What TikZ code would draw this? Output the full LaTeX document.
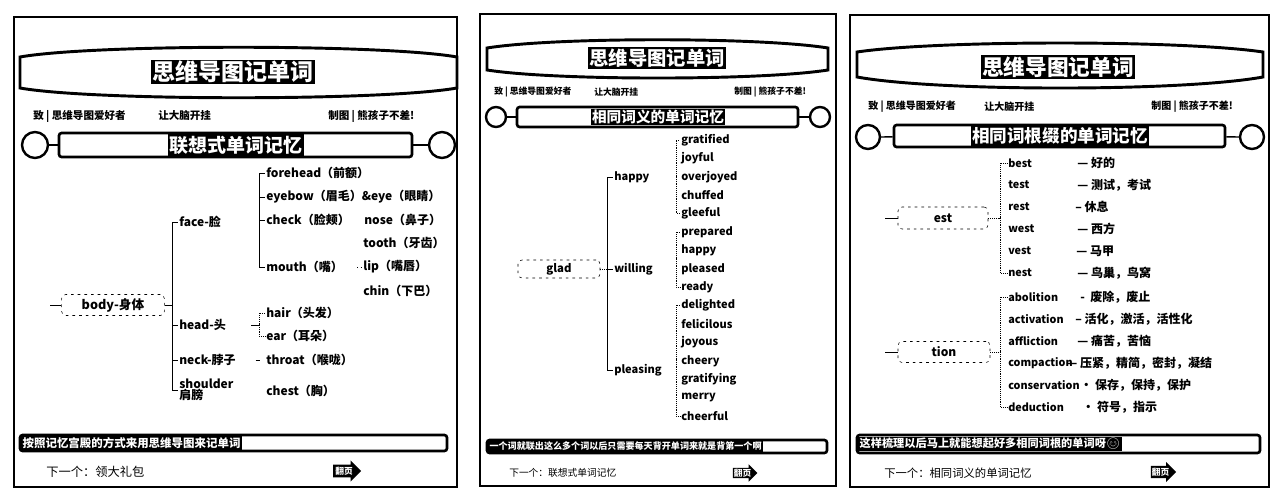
\documentclass[tikz,border=0pt]{standalone}
\usepackage{fontspec}
\setmainfont{Noto Sans CJK SC}
\newfontfamily\emojifont{Noto Emoji}
\usetikzlibrary{calc,shapes.arrows}

\begin{document}
\begin{tikzpicture}[x=0.75pt,y=0.75pt,yscale=-1,xscale=1,
  word/.style={anchor=west,inner sep=0.75pt,font=\bfseries\fontsize{9}{10}\selectfont},
  wordb/.style={anchor=west,inner sep=0.75pt,font=\bfseries\fontsize{8.3}{9}\selectfont},
  wordc/.style={anchor=west,inner sep=0.75pt,font=\bfseries\fontsize{8.1}{9}\selectfont},
  meaning/.style={anchor=west,inner sep=0.75pt,font=\bfseries\fontsize{9}{10}\selectfont},
  inverse/.style={fill=black,text=white,inner sep=1pt},
  rootbox/.style={draw,dash pattern=on 2pt off 3pt,rounded corners=3pt,inner sep=0pt},
  ring/.style={circle,draw,line width=1.8pt,inner sep=0pt},
  bar/.style={draw,line width=2pt,rounded corners=2pt,inner sep=0pt},
  nextarrow/.style={single arrow,fill=black,text=white,inner sep=0.5pt,single arrow head extend=2.5pt,font=\bfseries\fontsize{6.5}{7}\selectfont}]
\useasboundingbox (0,0) rectangle (1280,500);

%%%%%%%%%%%%%%%%%%%% panel 1 %%%%%%%%%%%%%%%%%%%%
%Shape: Rectangle [id:frame1]
\draw [line width=2pt] (14,17) rectangle (457,487);
%Shape: Banner [id:banner1]
\draw [line width=2.2pt] (20,57) .. controls (93,44) and (384,44) .. (457,57) -- (457,88) .. controls (384,101) and (93,101) .. (20,88) -- cycle;
% Text Node
\node [inverse,font=\bfseries\fontsize{17.25}{18}\selectfont] (title1) at (233,72) {思维导图记单词};
% Text Node
\node [anchor=west,inner sep=0.75pt,font=\bfseries\fontsize{7.9}{9}\selectfont] (to1) at (32,116) {致 | 思维导图爱好者};
\node [anchor=west,inner sep=0.75pt,font=\bfseries\fontsize{7.9}{9}\selectfont] (slogan1) at (157,116) {让大脑开挂};
\node [anchor=west,inner sep=0.75pt,font=\bfseries\fontsize{7.9}{9}\selectfont] (by1) at (327,116) {制图 | 熊孩子不差!};
%Shape: Section banner
\node [bar,minimum width=264.75pt,minimum height=18pt] (sec1) at (235.5,145) {};
\node [ring,minimum size=19.5pt] (sec1l) at (35,145) {};
\node [ring,minimum size=19.5pt] (sec1r) at (442,145) {};
\draw [line width=1pt] (sec1l) -- (sec1);
\draw [line width=1pt] (sec1) -- (sec1r);
\node [inverse,font=\bfseries\fontsize{14.25}{15}\selectfont] (sec1t) at (236,145) {联想式单词记忆};

% Root
\node [rootbox,minimum width=77pt,minimum height=15.75pt,font=\bfseries\fontsize{9.5}{10}\selectfont] (body) at (113,305) {body-身体};
\coordinate (bodyL) at (50,305);
\coordinate (fk1) at (172,305);
\draw (bodyL) -- (body.west);
\draw (body.east) -- (fk1);
% Text Node
\node [word] (face) at (178,222) {face-脸};
\node [word] (head) at (178,325) {head-头};
\node [word] (neck) at (178,360) {neck-脖子};
\node [word,align=left] (shoulder) at (178,390) {shoulder\\[-2pt]肩膀};
\draw (fk1) |- (face.west);
\draw (fk1) |- (head.west);
\draw (fk1) |- (neck.west);
\draw (fk1) |- (shoulder.west);

% face
\node [word] (forehead) at (265,173) {forehead（前额）};
\node [word] (eyebow) at (265,197) {eyebow（眉毛）\&eye（眼睛）};
\node [word] (check) at (265,220) {check（脸颊）};
\node [word] (mouth) at (265,267) {mouth（嘴）};
\node [word] (nose) at (363,220) {nose（鼻子）};
\node [word] (tooth) at (362,243) {tooth（牙齿）};
\node [word] (lip) at (362,267) {lip（嘴唇）};
\node [word] (chin) at (362,291) {chin（下巴）};
\coordinate (fk2) at (259,220);
\draw (fk2) |- (forehead.west);
\draw (fk2) |- (eyebow.west);
\draw (fk2) |- (check.west);
\draw (fk2) |- (mouth.west);
\draw [dotted,shorten <=10pt] (mouth.east) -- (lip.west);

% head
\node [word] (hair) at (265,313) {hair（头发）};
\node [word] (ear) at (265,336) {ear（耳朵）};
\coordinate (fk3) at (259,325);
\draw ($(fk3)+(-8,0)$) -- (fk3);
\draw [densely dotted] (fk3) |- (hair.west);
\draw [densely dotted] (fk3) |- (ear.west);

% neck, shoulder
\node [word] (throat) at (265,360) {throat（喉咙）};
\draw [shorten <=14pt,shorten >=4pt] (neck.east) -- (throat.west);
\node [word] (chest) at (265,391) {chest（胸）};

%Shape: Bottom bar
\node [bar,minimum width=320.25pt,minimum height=12pt] (note1) at (233.5,443) {};
\node [inverse,anchor=west,font=\bfseries\fontsize{8.6}{9}\selectfont] (note1t) at (21,443) {按照记忆宫殿的方式来用思维导图来记单词};
% Text Node
\node [anchor=west,inner sep=0.75pt,font=\fontsize{9.2}{10}\selectfont] (next1) at (45,472) {下一个：领大礼包};
\node [nextarrow,minimum height=21pt,minimum width=16pt] (go1) at (344,471) {翻页};

%%%%%%%%%%%%%%%%%%%% panel 2 %%%%%%%%%%%%%%%%%%%%
%Shape: Rectangle [id:frame2]
\draw [line width=2pt] (480,14) rectangle (836,486);
%Shape: Banner [id:banner2]
\draw [line width=2.2pt] (487,48) .. controls (555,37) and (760,37) .. (828,48) -- (828,70) .. controls (760,80.7) and (555,80.7) .. (487,70) -- cycle;
% Text Node
\node [inverse,font=\bfseries\fontsize{14.5}{15}\selectfont] (title2) at (657,58) {思维导图记单词};
% Text Node
\node [anchor=west,inner sep=0.75pt,font=\bfseries\fontsize{6.6}{7}\selectfont] (to2) at (493,92) {致 | 思维导图爱好者};
\node [anchor=west,inner sep=0.75pt,font=\bfseries\fontsize{6.6}{7}\selectfont] (slogan2) at (593,92) {让大脑开挂};
\node [anchor=west,inner sep=0.75pt,font=\bfseries\fontsize{6.6}{7}\selectfont] (by2) at (733,92) {制图 | 熊孩子不差!};
%Shape: Section banner
\node [bar,minimum width=210.75pt,minimum height=15pt] (sec2) at (657.5,117) {};
\node [ring,minimum size=15pt] (sec2l) at (496,117) {};
\node [ring,minimum size=15pt] (sec2r) at (820,117) {};
\draw [line width=1pt] (sec2l) -- (sec2);
\draw [line width=1pt] (sec2) -- (sec2r);
\node [inverse,font=\bfseries\fontsize{11}{12}\selectfont] (sec2t) at (658,117) {相同词义的单词记忆};

% Root
\node [rootbox,minimum width=61.5pt,minimum height=13.5pt,font=\bfseries\fontsize{8.5}{9}\selectfont] (glad) at (559,269) {glad};
\coordinate (fk4) at (607,269);
\draw [densely dotted] (glad.east) -- (fk4);
% Text Node
\node [wordb] (happy) at (613,177) {happy};
\node [wordb] (willing) at (613,269) {willing};
\node [wordb] (pleasing) at (613,370) {pleasing};
\draw (fk4) |- (happy.west);
\draw (fk4) |- (willing.west);
\draw (fk4) |- (pleasing.west);
% Text Node
\node [wordb] (gratified) at (680,140) {gratified};
\node [wordb] (joyful) at (680,158) {joyful};
\node [wordb] (overjoyed) at (680,177) {overjoyed};
\node [wordb] (chuffed) at (680,195) {chuffed};
\node [wordb] (gleeful) at (680,213) {gleeful};
\node [wordb] (prepared) at (680,232) {prepared};
\node [wordb] (happy2) at (680,250) {happy};
\node [wordb] (pleased) at (680,269) {pleased};
\node [wordb] (ready) at (680,287) {ready};
\node [wordb] (delighted) at (680,305) {delighted};
\node [wordb] (felicilous) at (680,324) {felicilous};
\node [wordb] (joyous) at (680,342) {joyous};
\node [wordb] (cheery) at (680,361) {cheery};
\node [wordb] (gratifying) at (680,379) {gratifying};
\node [wordb] (merry) at (680,397) {merry};
\node [wordb] (cheerful) at (680,416) {cheerful};
\coordinate (fk5) at (676,177);
\coordinate (fk6) at (676,259);
\coordinate (fk7) at (676,360);
\draw [densely dotted] (fk5) |- (gratified.west);
\draw [densely dotted] (fk5) |- (gleeful.west);
\draw [densely dotted] (fk6) |- (prepared.west);
\draw [densely dotted] (fk6) |- (ready.west);
\draw [densely dotted] (fk7) |- (delighted.west);
\draw [densely dotted] (fk7) |- (cheerful.west);

%Shape: Bottom bar
\node [bar,minimum width=255pt,minimum height=9.75pt] (note2) at (657,446.5) {};
\node [inverse,anchor=west,font=\bfseries\fontsize{6.8}{7}\selectfont] (note2t) at (488,446.5) {一个词就联出这么多个词以后只需要每天背开单词来就是背第一个啊};
% Text Node
\node [anchor=west,inner sep=0.75pt,font=\fontsize{7.3}{8}\selectfont] (next2) at (508,473) {下一个：联想式单词记忆};
\node [nextarrow,minimum height=16pt,minimum width=13pt] (go2) at (742.5,473) {翻页};

%%%%%%%%%%%%%%%%%%%% panel 3 %%%%%%%%%%%%%%%%%%%%
%Shape: Rectangle [id:frame3]
\draw [line width=2pt] (850,15) rectangle (1269,487);
%Shape: Banner [id:banner3]
\draw [line width=2.2pt] (857,52) .. controls (938,40) and (1182,40) .. (1263,52) -- (1263,77) .. controls (1182,91.7) and (938,91.7) .. (857,77) -- cycle;
% Text Node
\node [inverse,font=\bfseries\fontsize{16.25}{17}\selectfont] (title3) at (1058,67) {思维导图记单词};
% Text Node
\node [anchor=west,inner sep=0.75pt,font=\bfseries\fontsize{7.5}{8}\selectfont] (to3) at (867,107) {致 | 思维导图爱好者};
\node [anchor=west,inner sep=0.75pt,font=\bfseries\fontsize{7.5}{8}\selectfont] (slogan3) at (983,107) {让大脑开挂};
\node [anchor=west,inner sep=0.75pt,font=\bfseries\fontsize{7.5}{8}\selectfont] (by3) at (1150,107) {制图 | 熊孩子不差!};
%Shape: Section banner
\node [bar,minimum width=248.25pt,minimum height=16.5pt] (sec3) at (1059.5,136) {};
\node [ring,minimum size=18pt] (sec3l) at (868,137) {};
\node [ring,minimum size=18pt] (sec3r) at (1252,137) {};
\draw [line width=1pt] (sec3l) -- (sec3);
\draw [line width=1pt] (sec3) -- (sec3r);
\node [inverse,font=\bfseries\fontsize{13.2}{14}\selectfont] (sec3t) at (1060,136) {相同词根缀的单词记忆};

% Roots
\node [rootbox,minimum width=67.5pt,minimum height=16.5pt,font=\bfseries\fontsize{9}{10}\selectfont] (est) at (943,218) {est};
\node [rootbox,minimum width=69pt,minimum height=15.75pt,font=\bfseries\fontsize{9}{10}\selectfont] (tion) at (944,352) {tion};
\coordinate (estL) at (885,218);
\coordinate (tionL) at (885,352);
\draw (estL) -- (est.west);
\draw (tionL) -- (tion.west);
\coordinate (fk8) at (1000,218);
\coordinate (fk9) at (1000,352);
\draw [densely dotted] (est.east) -- (fk8);
\draw [densely dotted] (tion.east) -- (fk9);
% Text Node
\node [wordc] (best) at (1007,163) {best};
\node [wordc] (test) at (1007,185) {test};
\node [wordc] (rest) at (1007,207) {rest};
\node [wordc] (west) at (1007,229) {west};
\node [wordc] (vest) at (1007,251) {vest};
\node [wordc] (nest) at (1007,273) {nest};
\node [wordc] (abolition) at (1007,297) {abolition};
\node [wordc] (activation) at (1007,319) {activation};
\node [wordc] (affliction) at (1007,341) {affliction};
\node [wordc] (compaction) at (1007,363) {compaction};
\node [wordc] (conservation) at (1007,385) {conservation};
\node [wordc] (deduction) at (1007,407) {deduction};
\draw [densely dotted] (fk8) |- (best.west);
\draw [densely dotted] (fk8) |- (nest.west);
\draw [densely dotted] (fk9) |- (abolition.west);
\draw [densely dotted] (fk9) |- (deduction.west);
% Text Node
\node [meaning] (bestm) at (1076,163) {— 好的};
\node [meaning] (testm) at (1076,185) {— 测试，考试};
\node [meaning] (restm) at (1074,207) {-- 休息};
\node [meaning] (westm) at (1076,229) {— 西方};
\node [meaning] (vestm) at (1075,251) {— 马甲};
\node [meaning] (nestm) at (1076,273) {— 鸟巢，鸟窝};
\node [meaning] (abolitionm) at (1079,297) {-\ \ 废除，废止};
\node [meaning] (activationm) at (1074,319) {-- 活化，激活，活性化};
\node [meaning] (afflictionm) at (1076,341) {— 痛苦，苦恼};
\node [meaning] (compactionm) at (1065,363) {— 压紧，精简，密封，凝结};
\node [meaning] (conservationm) at (1079,385) {· 保存，保持，保护};
\node [meaning] (deductionm) at (1081,407) {· 符号，指示};

%Shape: Bottom bar
\node [bar,minimum width=302.25pt,minimum height=13.5pt] (note3) at (1058.5,444) {};
\node [inverse,anchor=west,font=\bfseries\fontsize{8.4}{9}\selectfont] (note3t) at (858,444) {这样梳理以后马上就能想起好多相同词根的单词呀{\emojifont 😊}};
% Text Node
\node [anchor=west,inner sep=0.75pt,font=\fontsize{8.5}{9}\selectfont] (next3) at (883,473) {下一个：相同词义的单词记忆};
\node [nextarrow,minimum height=19pt,minimum width=15pt] (go3) at (1160.5,472) {翻页};

\end{tikzpicture}
\end{document}
